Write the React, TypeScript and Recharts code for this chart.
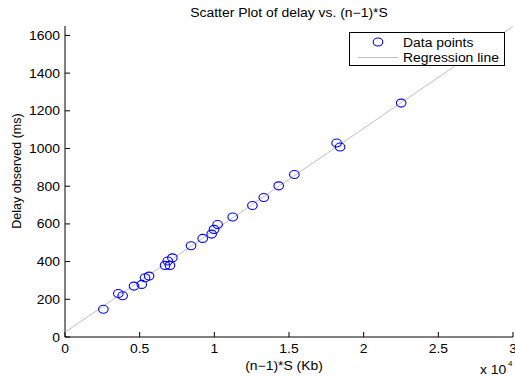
import { ScatterChart, Scatter, XAxis, YAxis, Label } from "recharts";

// delay data, x in Kb (axis shows x 10^4), y in ms
const sizeKb = [
  2570, 3570, 3860, 4620, 5140, 5360, 5630, 6700, 6880, 7030, 7190, 8440,
  9220, 9820, 9980, 10220, 11230, 12550, 13310, 14310, 15360, 18190, 18420, 22510,
];
const delayMs = [
  147, 231, 219, 270, 279, 314, 323, 380, 403, 380, 420, 484,
  523, 546, 571, 597, 637, 698, 740, 802, 862, 1029, 1008, 1241,
];

const regX = [0, 30000];
const regY = [25, 1648];

const xTicks = [0, 5000, 10000, 15000, 20000, 25000, 30000];
const yTicks = [0, 200, 400, 600, 800, 1000, 1200, 1400, 1600];

const points = sizeKb.map((x, i) => ({ x, y: delayMs[i] }));
const regression = regX.map((x, i) => ({ x, y: regY[i] }));

const FONT = "'Liberation Sans', Arial, sans-serif";
const FS = 12;
const SX = 1.16; // the reference text is a little wider than tall

function T({ x, y, anchor = "start", children }: any) {
  return (
    <text
      transform={`translate(${x} ${y}) scale(${SX} 1)`}
      textAnchor={anchor}
      fontSize={FS}
      fontFamily={FONT}
      fill="#000"
    >
      {children}
    </text>
  );
}

function XTick({ x, y, payload }: any) {
  return (
    <g>
      <line x1={x} y1={y} x2={x} y2={y - 5} stroke="#000" />
      <T x={x} y={y + 16} anchor="middle">
        {payload.value / 10000}
      </T>
    </g>
  );
}

function YTick({ x, y, payload }: any) {
  return (
    <g>
      <line x1={x} y1={y} x2={x + 5} y2={y} stroke="#000" />
      <T x={x - 5} y={y + 4.5} anchor="end">
        {payload.value}
      </T>
    </g>
  );
}

function Circle({ cx, cy }: any) {
  return <ellipse cx={cx} cy={cy} rx={4.8} ry={4} fill="none" stroke="#0000ff" strokeWidth={1.1} />;
}

export default function App() {
  return (
    <div style={{ position: "absolute", left: 0, top: 0, width: 515, height: 378, overflow: "hidden", background: "#fff" }}>
      <ScatterChart width={515} height={378} margin={{ top: 26, right: 2, bottom: 0, left: 0 }}>
        <XAxis
          type="number"
          dataKey="x"
          domain={[0, 30000]}
          ticks={xTicks}
          interval={0}
          tickSize={0}
          tickMargin={0}
          height={41}
          stroke="#000"
          tick={<XTick />}
        >
          <Label
            content={() => (
              <g>
                <T x={284} y={370} anchor="middle">(n−1)*S (Kb)</T>
                <T x={480} y={374}>x 10</T>
                <text x={508} y={366} fontSize={8} fontFamily={FONT} fill="#000">4</text>
              </g>
            )}
          />
        </XAxis>
        <YAxis
          type="number"
          dataKey="y"
          domain={[0, 1650]}
          ticks={yTicks}
          interval={0}
          tickSize={0}
          tickMargin={0}
          width={65}
          stroke="#000"
          tick={<YTick />}
        >
          <Label
            content={() => {
              const cx = 17;
              const cy = 171;
              return (
                <text x={cx} y={cy} transform={`rotate(-90 ${cx} ${cy})`} textAnchor="middle" dominantBaseline="central" fontSize={12.5} fontFamily={FONT} fill="#000">
                  Delay observed (ms)
                </text>
              );
            }}
          />
        </YAxis>
        <Scatter
          data={regression}
          line={{ stroke: "#c0c0c0", strokeWidth: 1 }}
          shape={() => <g />}
          isAnimationActive={false}
        />
        <Scatter data={points} shape={<Circle />} isAnimationActive={false} />
      </ScatterChart>

      <svg width={515} height={378} style={{ position: "absolute", left: 0, top: 0, pointerEvents: "none" }}>
        <T x={289} y={17} anchor="middle">Scatter Plot of delay vs. (n−1)*S</T>
        <rect x={349.5} y={32.5} width={155} height={33} fill="#fff" stroke="#000" strokeWidth={1} />
        <ellipse cx={378} cy={42} rx={4.8} ry={4} fill="none" stroke="#0000ff" strokeWidth={1.1} />
        <T x={403} y={46.5}>Data points</T>
        <line x1={358} y1={57.5} x2={398} y2={57.5} stroke="#c0c0c0" />
        <T x={403} y={61.5}>Regression line</T>
      </svg>
    </div>
  );
}
